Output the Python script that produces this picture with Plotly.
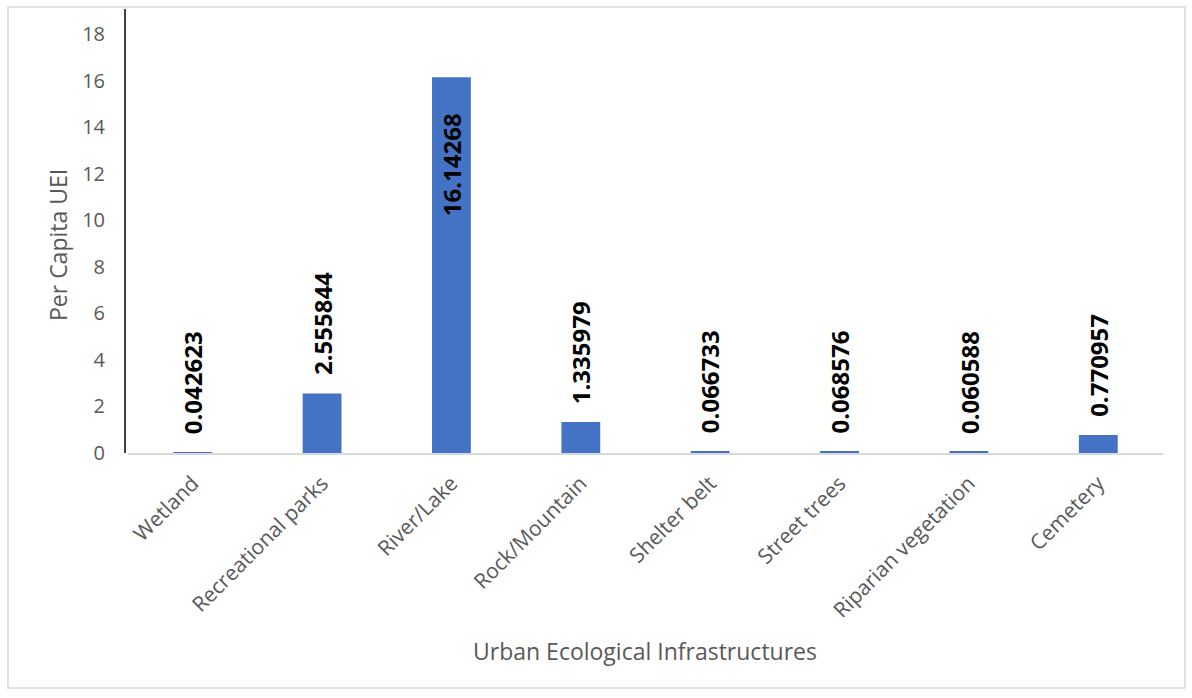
import plotly.graph_objects as go

categories = ["Wetland", "Recreational parks", "River/Lake", "Rock/Mountain",
              "Shelter belt", "Street trees", "Riparian vegetation", "Cemetery"]
values = [0.042623, 2.555844, 16.14268, 1.335979, 0.066733, 0.068576, 0.060588, 0.770957]
labels = ["0.042623", "2.555844", "16.14268", "1.335979", "0.066733", "0.068576", "0.060588", "0.770957"]
inside_flags = [False, False, True, False, False, False, False, False]
y_ticks = [0, 2, 4, 6, 8, 10, 12, 14, 16, 18]

W, H = 1192, 698
L, R, T, B = 128, 29, 34, 245
pw, ph = W - L - R, H - T - B

def px(x):
    return (x - L) / pw

def py(y):
    return (H - B - y) / ph

fig = go.Figure()
fig.add_trace(go.Bar(x=categories, y=values, marker_color="#4472C4",
                     marker_line_width=0, hoverinfo="skip"))

annotations = []
for c, v, lab, ins in zip(categories, values, labels, inside_flags):
    annotations.append(dict(
        x=c, y=v, xref="x", yref="y", text=lab, textangle=-90,
        showarrow=False, font=dict(family="Open Sans", size=24, color="#000000", weight="bold"),
        xanchor="center",
        yanchor="top" if ins else "bottom",
        yshift=-34 if ins else 16,
    ))
annotations.append(dict(x=px(645), y=py(651), xref="paper", yref="paper",
                        xanchor="center", yanchor="middle",
                        text="Urban Ecological Infrastructures", showarrow=False,
                        font=dict(family="Open Sans", size=23, color="#595959")))
annotations.append(dict(x=px(58), y=py(245), xref="paper", yref="paper",
                        xanchor="center", yanchor="middle",
                        text="Per Capita UEI", showarrow=False, textangle=-90,
                        font=dict(family="Open Sans", size=23, color="#595959")))

shapes = [
    dict(type="rect", xref="paper", yref="paper", x0=px(8), x1=px(1185), y0=py(688), y1=py(7),
         line=dict(color="#D9D9D9", width=1.5), layer="below"),
    dict(type="line", xref="paper", yref="paper", x0=px(125), x1=px(125), y0=py(453), y1=py(9),
         line=dict(color="#000000", width=1.5)),
]

fig.update_layout(
    width=W, height=H,
    margin=dict(l=L, r=R, t=T, b=B, autoexpand=False),
    paper_bgcolor="white", plot_bgcolor="white",
    showlegend=False, bargap=0.7,
    annotations=annotations, shapes=shapes,
    xaxis=dict(showgrid=False, showline=True, linecolor="#D9D9D9", linewidth=1.5,
               tickangle=-45, ticks="", ticklabelstandoff=8,
               tickfont=dict(family="Open Sans", size=21, color="#595959")),
    yaxis=dict(range=[0, 18], tickvals=y_ticks, showgrid=False, showline=False,
               zeroline=False, ticks="", ticklabelstandoff=22,
               tickfont=dict(family="Open Sans", size=20, color="#595959")),
    font=dict(family="Open Sans"),
)

fig.write_html("out.html")
